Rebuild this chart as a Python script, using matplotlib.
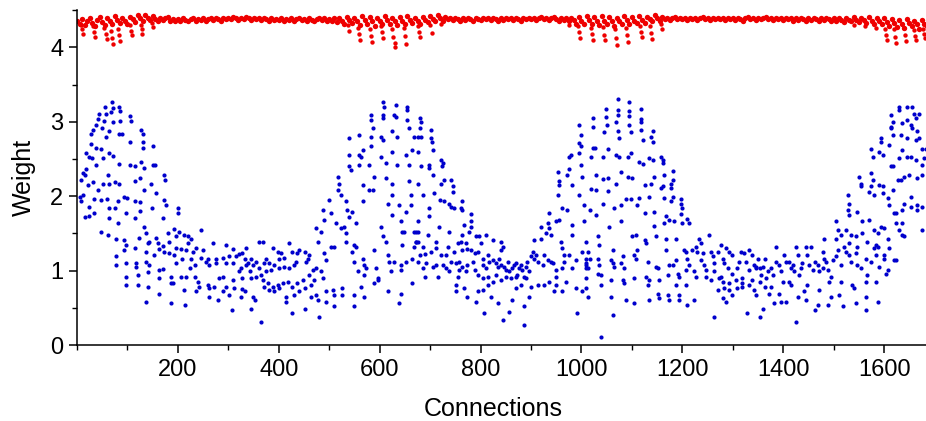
import numpy as np
import matplotlib.pyplot as plt
from matplotlib.ticker import MultipleLocator

plt.rcParams['font.family'] = ['Liberation Sans', 'DejaVu Sans']

# blue series, (connection, weight), split by x range
blue_seg1 = [
    (69, 3.26), (55, 3.20), (71, 3.18), (84, 3.20), (86, 3.14), (67, 3.13), (43, 3.11), (57, 3.11),
    (104, 3.08), (42, 3.04), (54, 3.01), (71, 3.00), (86, 3.01), (106, 3.01), (38, 2.96), (31, 2.89),
    (50, 2.91), (63, 2.87), (84, 2.83), (90, 2.83), (127, 2.89), (130, 2.84), (28, 2.83), (57, 2.80),
    (104, 2.73), (130, 2.73), (130, 2.65), (150, 2.67), (28, 2.70), (38, 2.65), (48, 2.63), (18, 2.58),
    (24, 2.53), (30, 2.51), (64, 2.58), (71, 2.54), (51, 2.51), (84, 2.43), (104, 2.42), (114, 2.40),
    (127, 2.46), (133, 2.38), (150, 2.42), (155, 2.42), (38, 2.42), (18, 2.37), (11, 2.31), (15, 2.28),
    (61, 2.28), (8, 2.22), (21, 2.15), (31, 2.19), (41, 2.08), (51, 2.17), (76, 2.19), (83, 2.16),
    (64, 2.16), (114, 2.20), (124, 2.24), (147, 2.16), (173, 2.29), (175, 2.22), (133, 2.08), (157, 2.04),
    (5, 1.99), (11, 2.02), (8, 1.94), (34, 1.96), (48, 1.95), (59, 1.96), (81, 1.93), (94, 1.99),
    (100, 1.97), (114, 1.94), (124, 1.92), (23, 1.86), (34, 1.78), (64, 1.84), (76, 1.84), (97, 1.77),
    (124, 1.80), (149, 1.84), (173, 1.95), (176, 1.88), (200, 1.84), (201, 1.77), (170, 1.70), (24, 1.74),
    (15, 1.72), (64, 1.70), (81, 1.64), (114, 1.70), (48, 1.52), (61, 1.48), (77, 1.42), (94, 1.41),
    (97, 1.34), (114, 1.30), (122, 1.44), (133, 1.59), (137, 1.51), (140, 1.37), (143, 1.39), (157, 1.44),
    (160, 1.37), (163, 1.29), (170, 1.33), (173, 1.25), (180, 1.51), (183, 1.39), (193, 1.56), (196, 1.46),
    (203, 1.52), (213, 1.48), (219, 1.46), (226, 1.43), (246, 1.55), (219, 1.37), (196, 1.30), (206, 1.29),
    (216, 1.28), (229, 1.25), (236, 1.30), (249, 1.28), (269, 1.37), (295, 1.34), (309, 1.29), (137, 1.25),
    (153, 1.21), (183, 1.23), (193, 1.21), (209, 1.16), (226, 1.16), (246, 1.17), (259, 1.16), (275, 1.16),
    (289, 1.17), (302, 1.19), (315, 1.19), (322, 1.22), (328, 1.23), (332, 1.16), (335, 1.08), (77, 1.19),
    (94, 1.27), (117, 1.10), (117, 1.05), (97, 1.10), (77, 1.07), (137, 1.12), (143, 1.08), (163, 1.01),
    (170, 1.02), (196, 1.10), (223, 1.03), (233, 1.08), (256, 1.12), (262, 1.08), (275, 1.10), (295, 1.10),
    (309, 1.10), (325, 1.03), (163, 0.90), (186, 0.92), (206, 0.92), (216, 0.91), (233, 0.92), (239, 0.85),
    (242, 0.78), (259, 0.81), (282, 0.90), (289, 0.92), (295, 0.78), (309, 0.87), (322, 0.99), (328, 0.90),
    (97, 0.92), (120, 0.94), (140, 0.98), (97, 0.81), (120, 0.81), (140, 0.78), (163, 0.68), (186, 0.83),
    (190, 0.83), (213, 0.74), (236, 0.72), (262, 0.76), (262, 0.65), (272, 0.78), (279, 0.60), (289, 0.72),
    (302, 0.67), (312, 0.76), (325, 0.65), (328, 0.75), (137, 0.58), (186, 0.57), (215, 0.54), (307, 0.47),
    (332, 0.72),
]

blue_seg2 = [
    (361, 1.38), (368, 1.38), (335, 1.30), (345, 1.16), (338, 1.10), (348, 1.08), (355, 1.12), (361, 1.03),
    (371, 1.10), (375, 1.16), (381, 1.10), (388, 1.30), (398, 1.25), (404, 1.23), (401, 1.16), (411, 1.17),
    (421, 1.37), (427, 1.25), (437, 1.23), (441, 1.28), (451, 1.25), (457, 1.16), (460, 1.21), (454, 1.12),
    (434, 1.12), (431, 1.08), (421, 1.03), (411, 1.05), (401, 1.03), (391, 1.08), (385, 1.01), (375, 0.99),
    (365, 0.94), (355, 0.92), (345, 0.90), (342, 0.99), (368, 0.87), (378, 0.83), (388, 0.78), (398, 0.81),
    (408, 0.83), (418, 0.85), (427, 0.78), (437, 0.83), (447, 0.87), (460, 0.94), (467, 1.01), (474, 1.03),
    (484, 0.99), (487, 0.90), (470, 0.87), (464, 0.81), (451, 0.76), (441, 0.72), (431, 0.67), (414, 0.65),
    (401, 0.76), (391, 0.72), (381, 0.74), (371, 0.78), (348, 0.65), (352, 0.60), (345, 0.49), (365, 0.31),
    (414, 0.58), (427, 0.43), (451, 0.49), (464, 0.65), (474, 0.67), (477, 0.60), (480, 0.38), (493, 0.72),
    (507, 0.74), (510, 0.67), (493, 0.58), (510, 0.52), (526, 0.76), (526, 0.67), (550, 0.67), (550, 0.52),
    (569, 0.65), (563, 0.78), (589, 0.83), (596, 0.87), (616, 0.72), (642, 0.68), (639, 0.56), (665, 0.83),
    (474, 1.57), (477, 1.39), (484, 1.52), (490, 1.23), (493, 1.14), (503, 1.32), (510, 1.32), (513, 1.64),
    (523, 1.57), (530, 1.59), (533, 1.50), (533, 1.39), (546, 1.25), (550, 1.34), (550, 1.12), (553, 1.32),
    (556, 0.99), (566, 1.16), (569, 1.08), (573, 1.03), (569, 0.94), (589, 1.28), (592, 1.03), (596, 0.90),
    (602, 1.59), (606, 1.46), (612, 1.39), (616, 1.21), (619, 1.12), (622, 0.99), (629, 1.12), (642, 1.08),
    (642, 1.01), (645, 1.34), (649, 1.52), (652, 1.12), (665, 1.16), (668, 1.32), (672, 1.39), (668, 1.52),
    (487, 1.81), (490, 1.68), (503, 1.77), (500, 1.95), (517, 2.26), (520, 2.17), (517, 2.08), (523, 2.02),
    (533, 1.93), (536, 1.81), (540, 1.72), (546, 1.79), (553, 1.64), (540, 2.40), (540, 2.55), (543, 2.35),
    (540, 2.78), (559, 2.55), (563, 2.53), (559, 2.82), (559, 2.42), (566, 2.62), (566, 2.15), (566, 1.93),
    (579, 2.42), (583, 2.67), (579, 2.08), (586, 2.08), (583, 2.80), (586, 2.91), (583, 3.09), (583, 3.02),
    (589, 2.26), (602, 2.53), (602, 2.80), (606, 2.76), (606, 3.09), (606, 3.05), (609, 3.20), (606, 3.27),
    (612, 2.24), (616, 1.90), (612, 2.44), (625, 2.17), (625, 2.02), (625, 1.75), (625, 2.87), (625, 2.60),
    (629, 3.09), (632, 3.07), (632, 3.23), (635, 2.80), (635, 2.42), (639, 1.88), (645, 1.52), (652, 2.55),
    (655, 3.20), (655, 3.16), (655, 3.02), (658, 2.91), (658, 2.42), (658, 2.20), (662, 2.02), (662, 1.88),
    (665, 2.62), (668, 2.80), (672, 1.52), (675, 1.66), (675, 1.39), (652, 1.79), (642, 1.66),
]

blue_seg3 = [
    (679, 3.05), (682, 3.00), (679, 2.91), (675, 2.80), (682, 2.79), (702, 2.89), (702, 2.78), (704, 2.73),
    (675, 2.60), (705, 2.62), (682, 2.40), (698, 2.42), (698, 2.38), (722, 2.49), (725, 2.44), (723, 2.40),
    (705, 2.28), (675, 2.16), (685, 2.02), (722, 2.16), (728, 2.22), (741, 2.22), (745, 2.13), (745, 2.06),
    (708, 2.04), (698, 1.84), (698, 1.74), (720, 1.95), (728, 1.93), (738, 1.90), (741, 1.86), (748, 1.84),
    (761, 1.84), (764, 1.81), (764, 1.93), (781, 1.76), (781, 1.66), (781, 1.59), (778, 1.52), (764, 1.48),
    (761, 1.39), (771, 1.37), (755, 1.37), (768, 1.61), (738, 1.52), (718, 1.59), (695, 1.48), (675, 1.52),
    (672, 1.39), (685, 1.32), (679, 1.21), (689, 1.22), (702, 1.25), (712, 1.30), (712, 1.39), (722, 1.21),
    (731, 1.21), (735, 1.32), (741, 1.12), (751, 1.10), (758, 1.12), (748, 1.25), (764, 1.28), (774, 1.29),
    (781, 1.28), (791, 1.47), (797, 1.47), (801, 1.37), (811, 1.48), (824, 1.41), (840, 1.39), (844, 1.32),
    (840, 1.28), (814, 1.21), (804, 1.16), (788, 1.23), (794, 1.25), (784, 1.12), (774, 1.08), (771, 0.99),
    (764, 1.05), (758, 1.01), (755, 0.92), (738, 0.99), (731, 1.03), (725, 1.08), (712, 1.08), (705, 1.05),
    (692, 1.10), (685, 1.03), (689, 0.92), (715, 0.92), (675, 1.12),
    (751, 0.81), (751, 0.72), (768, 0.76), (774, 0.65), (791, 0.58), (794, 0.72), (804, 0.74), (814, 0.81),
    (821, 0.65), (807, 0.43), (834, 0.56), (844, 0.34), (857, 0.44), (863, 0.60), (870, 0.76), (880, 0.81),
    (890, 0.90), (900, 0.78), (896, 0.65), (886, 0.27), (886, 0.52), (913, 0.81), (926, 0.81), (936, 0.85),
    (949, 0.92), (949, 0.81), (946, 0.72), (962, 0.72), (969, 0.85), (989, 0.76), (1002, 0.72), (992, 0.43),
    (804, 1.08), (811, 1.03), (817, 1.12), (824, 1.14), (830, 1.10), (834, 1.05), (837, 1.16), (840, 1.08),
    (847, 1.05), (850, 1.01), (854, 1.12), (857, 0.99), (863, 1.03), (867, 1.08), (870, 1.10), (877, 1.03),
    (873, 0.94), (880, 1.08), (883, 1.01), (890, 1.05), (893, 1.12), (900, 1.19), (903, 1.25), (906, 1.16),
    (910, 1.21), (896, 0.99), (886, 0.92), (870, 0.92), (860, 0.90), (850, 0.92), (840, 0.87), (830, 0.94),
    (824, 0.85), (814, 0.92), (804, 0.90), (794, 0.94), (788, 1.01), (913, 1.12), (923, 1.08), (933, 1.14),
    (943, 1.10), (949, 1.01), (962, 1.03), (966, 1.12), (976, 1.21), (982, 1.03), (989, 1.14), (1002, 1.25),
    (1009, 1.10), (1009, 1.03), (926, 1.21), (939, 1.12), (966, 1.21),
    (906, 1.41), (920, 1.43), (920, 1.59), (929, 1.50), (933, 1.64), (936, 1.57), (939, 1.48), (936, 1.77),
    (949, 1.66), (956, 1.68), (959, 1.39), (962, 1.30), (953, 2.02), (956, 2.20), (956, 2.15), (953, 2.33),
    (972, 2.28), (976, 2.37), (976, 2.53), (979, 2.55), (982, 2.15), (982, 1.61), (982, 1.48), (972, 1.81),
    (962, 1.84), (995, 2.96), (999, 2.82), (995, 2.71), (999, 2.67), (995, 2.58), (999, 2.42), (1002, 2.26),
    (995, 2.02), (1005, 1.88), (1005, 1.66), (1009, 1.39), (1012, 1.25),
]

blue_seg4 = [
    (1072, 3.31), (1095, 3.26), (1049, 3.17), (1072, 3.16), (1095, 3.14), (1118, 3.17), (1022, 3.05), (1049, 3.07),
    (1072, 3.09), (1095, 3.08), (1118, 3.04), (1118, 3.00), (1022, 2.93), (1050, 2.95), (1068, 3.00), (1095, 2.96),
    (1118, 2.89), (1141, 2.88), (1045, 2.86), (1072, 2.87), (1098, 2.86), (1138, 2.80), (1141, 2.73), (1075, 2.78),
    (1121, 2.76), (1022, 2.65), (1026, 2.65), (1052, 2.63), (1019, 2.53), (1042, 2.53), (1068, 2.55), (1075, 2.53),
    (1092, 2.53), (1098, 2.58), (1115, 2.46), (1121, 2.43), (1134, 2.51), (1141, 2.49), (1158, 2.53), (1161, 2.49),
    (1161, 2.44), (1078, 2.32), (1029, 2.29), (1042, 2.23), (1052, 2.25), (1092, 2.26), (1101, 2.25), (1144, 2.26),
    (1164, 2.28), (1181, 2.34), (1181, 2.22), (1177, 2.17), (1068, 2.16), (1125, 2.15), (1138, 2.16), (1158, 2.11),
    (1161, 2.14), (1177, 2.11), (1019, 2.10), (1029, 2.08), (1052, 2.07), (1042, 1.90), (1088, 1.96), (1098, 1.96),
    (1115, 1.97), (1134, 1.99), (1164, 1.97), (1181, 1.99), (1177, 1.94), (1197, 1.96), (1197, 1.90), (1200, 1.84),
    (1016, 1.81), (1029, 1.75), (1065, 1.84), (1078, 1.88), (1111, 1.88), (1125, 1.78), (1144, 1.79), (1167, 1.74),
    (1164, 1.64), (1174, 1.68), (1184, 1.66), (1197, 1.76), (1200, 1.64), (1210, 1.69), (1214, 1.64), (1078, 1.66),
    (1055, 1.58), (1144, 1.60), (1032, 1.46), (1035, 1.34), (1101, 1.46), (1108, 1.48), (1125, 1.41), (1128, 1.37),
    (1148, 1.46), (1167, 1.42), (1187, 1.43), (1167, 1.28), (1111, 1.28), (1062, 1.28),
    (1009, 1.16), (1016, 1.16), (1009, 1.08), (1012, 1.03), (1032, 1.16), (1035, 1.08), (1032, 0.96), (1039, 0.94),
    (1059, 1.14), (1062, 1.10), (1065, 1.05), (1059, 0.87), (1039, 0.81), (1009, 0.90), (1082, 1.19), (1078, 1.10),
    (1085, 1.03), (1082, 0.87), (1085, 0.83), (1105, 1.21), (1108, 1.16), (1105, 0.90), (1128, 0.92), (1131, 0.81),
    (1134, 0.87), (1131, 1.12), (1148, 1.05), (1151, 1.03), (1154, 0.87), (1151, 0.69), (1154, 0.63), (1171, 0.94),
    (1174, 1.08), (1187, 1.14), (1191, 0.96), (1187, 0.81), (1171, 0.67), (1194, 0.67), (1207, 0.81), (1204, 1.28),
    (1207, 1.25), (1220, 1.28), (1210, 1.16), (1214, 1.08), (1224, 0.99), (1227, 1.32), (1233, 1.43), (1237, 1.37),
    (1230, 1.25), (1240, 1.23), (1237, 1.14), (1243, 1.08), (1247, 1.01), (1253, 1.48), (1257, 1.25), (1260, 1.19),
    (1263, 1.10), (1263, 0.99), (1270, 1.25), (1276, 1.34), (1280, 1.16), (1283, 1.10), (1276, 0.92), (1286, 1.30),
    (1293, 1.25), (1299, 1.21), (1290, 1.03), (1299, 0.96), (1309, 1.03), (1313, 1.12), (1316, 1.25), (1323, 1.23),
    (1326, 1.12), (1332, 1.28), (1339, 1.21), (1342, 1.08), (1346, 1.03), (1332, 1.01), (1319, 0.90), (1306, 0.87),
    (1293, 0.83), (1280, 0.85), (1273, 0.90), (1283, 0.76), (1293, 0.74), (1309, 0.76), (1319, 0.78), (1332, 0.81),
    (1342, 0.74), (1339, 0.87), (1263, 0.38), (1224, 0.60), (1210, 0.54), (1194, 0.92), (1009, 0.76), (1012, 0.65),
    (1059, 0.65), (1062, 0.40), (1088, 0.60), (1105, 0.56), (1134, 0.60), (1174, 0.60), (1194, 0.60), (1286, 0.58),
    (1329, 0.43), (1039, 0.11), (1181, 1.08), (1207, 1.01), (1227, 0.92), (1247, 0.92), (1257, 0.87), (1270, 0.74),
    (1280, 0.63), (1299, 0.67), (1319, 0.83),
]

blue_seg5 = [
    (1346, 1.05), (1353, 1.03), (1359, 1.05), (1363, 1.16), (1349, 1.16), (1356, 0.94), (1369, 0.99), (1366, 0.90),
    (1376, 1.03), (1379, 0.94), (1386, 1.32), (1386, 1.12), (1392, 1.08), (1396, 0.99), (1399, 0.85), (1405, 1.12),
    (1402, 1.21), (1412, 1.12), (1415, 1.03), (1419, 1.08), (1422, 0.99), (1425, 1.32), (1429, 1.21), (1432, 0.94),
    (1435, 1.03), (1438, 1.10), (1445, 1.32), (1448, 1.21), (1455, 1.32), (1452, 1.08), (1458, 1.01), (1462, 1.12),
    (1468, 1.08), (1471, 0.99), (1478, 1.03), (1481, 1.16), (1485, 1.12), (1478, 1.25), (1488, 1.01), (1494, 0.92),
    (1498, 1.14), (1504, 1.19), (1508, 1.28), (1514, 1.08), (1521, 1.32), (1524, 1.25), (1531, 1.21), (1534, 1.12),
    (1544, 1.23), (1547, 1.08), (1554, 1.03), (1564, 1.16), (1567, 0.94), (1574, 1.12), (1580, 1.30), (1584, 1.21),
    (1587, 1.32), (1590, 1.05), (1600, 1.16), (1607, 1.01), (1603, 0.96), (1620, 1.14),
    (1353, 0.85), (1363, 0.78), (1376, 0.78), (1372, 0.69), (1346, 0.67), (1359, 0.49), (1353, 0.38), (1382, 0.56),
    (1396, 0.58), (1405, 0.58), (1392, 0.69), (1412, 0.85), (1415, 0.81), (1429, 0.65), (1442, 0.72), (1445, 0.60),
    (1448, 0.81), (1462, 0.47), (1468, 0.54), (1471, 0.74), (1488, 0.54), (1494, 0.65), (1491, 0.85), (1511, 0.67),
    (1518, 0.52), (1514, 0.85), (1537, 0.81), (1541, 0.76), (1544, 0.56), (1564, 0.85), (1564, 0.65), (1564, 0.47),
    (1587, 0.58), (1584, 0.85), (1425, 0.31),
    (1481, 1.43), (1504, 1.43), (1504, 1.66), (1508, 1.55), (1514, 1.48), (1524, 1.55), (1534, 1.48), (1531, 1.37),
    (1544, 1.46), (1547, 1.32), (1557, 1.66), (1557, 1.50), (1567, 1.39), (1570, 1.68), (1580, 1.55), (1584, 1.34),
    (1587, 1.50), (1594, 1.59), (1600, 1.57), (1600, 1.21), (1607, 1.43), (1610, 1.30), (1623, 1.64), (1623, 1.14),
    (1636, 1.64), (1636, 1.48),
    (1528, 2.02), (1531, 1.90), (1528, 1.81), (1531, 1.75), (1547, 1.79), (1551, 2.26), (1554, 2.17), (1554, 2.13),
    (1574, 2.31), (1577, 2.22), (1574, 2.13), (1570, 2.06), (1580, 2.02), (1590, 2.15), (1597, 2.13), (1597, 2.04),
    (1607, 1.97), (1610, 1.88), (1613, 2.40), (1617, 2.40), (1574, 2.64), (1577, 2.53), (1590, 2.60), (1597, 2.55),
    (1594, 2.78), (1594, 2.73), (1610, 2.69), (1613, 2.93), (1613, 2.91), (1617, 2.82), (1613, 3.09), (1617, 3.00),
    (1630, 3.20), (1630, 3.16), (1646, 3.20), (1656, 3.20), (1660, 3.11), (1646, 3.02), (1636, 2.98), (1663, 3.05),
    (1669, 3.11), (1656, 2.91), (1653, 2.96), (1666, 2.87), (1669, 2.78), (1633, 2.82), (1646, 2.78), (1663, 2.76),
    (1676, 2.64), (1636, 2.62), (1630, 2.51), (1646, 2.53), (1653, 2.53), (1663, 2.49), (1676, 2.42), (1627, 2.22),
    (1633, 2.22), (1640, 2.26), (1650, 2.28), (1666, 2.24), (1676, 2.28), (1617, 2.08), (1640, 1.90), (1653, 1.99),
    (1653, 1.86), (1666, 1.88), (1666, 1.81), (1676, 1.86), (1620, 1.77), (1623, 1.77), (1676, 1.55), (1636, 1.81),
    (1630, 1.55), (1640, 1.46), (1679, 2.51), (1683, 2.64),
]

# red series: the upper band, one value every 5 connections from 0 to 1685
red_step = 5
red_band = [
    4.36, 4.32, 4.38, 4.30, 4.35, 4.40, 4.33, 4.28, 4.37, 4.41, 4.34, 4.30, 4.39, 4.35, 4.31, 4.42, 4.37, 4.33, 4.40, 4.36,
    4.32, 4.41, 4.38, 4.34, 4.43, 4.39, 4.36, 4.44, 4.40, 4.37, 4.42, 4.38, 4.35, 4.40, 4.37, 4.39, 4.41, 4.36, 4.38, 4.35,
    4.38, 4.36, 4.39, 4.37, 4.35, 4.38, 4.40, 4.36, 4.38, 4.37, 4.39, 4.36, 4.38, 4.40, 4.37, 4.39, 4.38, 4.36, 4.40, 4.38,
    4.40, 4.38, 4.41, 4.39, 4.37, 4.40, 4.38, 4.41, 4.39, 4.37, 4.39, 4.38, 4.40, 4.37, 4.39, 4.38, 4.36, 4.39, 4.37, 4.38,
    4.37, 4.39, 4.36, 4.38, 4.37, 4.39, 4.36, 4.38, 4.40, 4.37, 4.38, 4.36, 4.39, 4.37, 4.35, 4.38, 4.40, 4.37, 4.39, 4.36,
    4.38, 4.36, 4.39, 4.34, 4.40, 4.36, 4.31, 4.41, 4.37, 4.33, 4.40, 4.36, 4.30, 4.42, 4.37, 4.32, 4.41, 4.35, 4.29, 4.40,
    4.36, 4.31, 4.42, 4.37, 4.32, 4.40, 4.35, 4.30, 4.41, 4.36, 4.32, 4.42, 4.37, 4.33, 4.40, 4.36, 4.31, 4.41, 4.37, 4.34,
    4.42, 4.38, 4.35, 4.43, 4.39, 4.36, 4.41, 4.38, 4.40, 4.37, 4.39, 4.38, 4.36, 4.39, 4.37, 4.40, 4.38, 4.36, 4.39, 4.38,
    4.37, 4.39, 4.38, 4.40, 4.37, 4.39, 4.38, 4.36, 4.39, 4.37, 4.40, 4.38, 4.39, 4.37, 4.40, 4.38, 4.36, 4.39, 4.38, 4.40,
    4.38, 4.40, 4.37, 4.39, 4.41, 4.38, 4.40, 4.37, 4.39, 4.41, 4.38, 4.36, 4.40, 4.37, 4.39, 4.35, 4.40, 4.37, 4.32, 4.41,
    4.36, 4.31, 4.42, 4.37, 4.32, 4.41, 4.36, 4.30, 4.42, 4.36, 4.31, 4.41, 4.35, 4.29, 4.40, 4.36, 4.31, 4.42, 4.37, 4.32,
    4.41, 4.36, 4.33, 4.42, 4.37, 4.33, 4.41, 4.38, 4.35, 4.43, 4.39, 4.36, 4.41, 4.38, 4.40, 4.37, 4.39, 4.41, 4.38, 4.40,
    4.38, 4.40, 4.37, 4.39, 4.38, 4.40, 4.37, 4.39, 4.41, 4.38, 4.40, 4.37, 4.39, 4.38, 4.40, 4.38, 4.39, 4.37, 4.40, 4.38,
    4.39, 4.37, 4.40, 4.38, 4.36, 4.39, 4.41, 4.38, 4.40, 4.37, 4.39, 4.38, 4.40, 4.41, 4.38, 4.39, 4.37, 4.40, 4.38, 4.39,
    4.37, 4.40, 4.38, 4.39, 4.36, 4.39, 4.37, 4.40, 4.38, 4.36, 4.39, 4.37, 4.40, 4.38, 4.36, 4.39, 4.37, 4.40, 4.38, 4.36,
    4.39, 4.36, 4.40, 4.37, 4.34, 4.40, 4.37, 4.35, 4.41, 4.37, 4.34, 4.40, 4.37, 4.33, 4.41, 4.36, 4.32, 4.40, 4.35, 4.31,
    4.39, 4.34, 4.29, 4.38, 4.33, 4.27, 4.37, 4.32, 4.26, 4.38, 4.33, 4.28, 4.36, 4.31, 4.25, 4.37, 4.32, 4.28,
]

# red series: the downward spikes below the band
red_dips = [
    (8, 4.30), (10, 4.24), (12, 4.18), (32, 4.28), (34, 4.20), (36, 4.14), (54, 4.26), (57, 4.18), (59, 4.11),
    (68, 4.22), (70, 4.12), (71, 4.05), (82, 4.25), (84, 4.16), (86, 4.08), (104, 4.30), (106, 4.22), (108, 4.16),
    (126, 4.30), (128, 4.24), (129, 4.18), (148, 4.33), (151, 4.27),
    (537, 4.30), (540, 4.22), (557, 4.26), (559, 4.18), (561, 4.10), (580, 4.25), (582, 4.15), (584, 4.07),
    (603, 4.28), (605, 4.20), (607, 4.12), (625, 4.24), (627, 4.14), (630, 4.06), (631, 4.01), (649, 4.26),
    (651, 4.15), (653, 4.05), (676, 4.28), (678, 4.20), (680, 4.14), (700, 4.30), (703, 4.19), (722, 4.31),
    (975, 4.30), (993, 4.28), (995, 4.20), (997, 4.12), (1019, 4.26), (1021, 4.18), (1023, 4.10), (1042, 4.27),
    (1044, 4.17), (1046, 4.10), (1066, 4.24), (1068, 4.13), (1070, 4.03), (1088, 4.26), (1090, 4.16), (1092, 4.07),
    (1116, 4.29), (1118, 4.21), (1120, 4.14), (1136, 4.28), (1138, 4.19), (1140, 4.11), (1158, 4.31), (1160, 4.25),
    (1540, 4.30), (1562, 4.28), (1583, 4.26), (1601, 4.25), (1603, 4.16), (1605, 4.10), (1620, 4.24), (1622, 4.14),
    (1624, 4.06), (1640, 4.26), (1642, 4.16), (1644, 4.08), (1660, 4.23), (1662, 4.15), (1664, 4.10), (1678, 4.25),
    (1680, 4.18), (1682, 4.12),
]

x_ticks = [200, 400, 600, 800, 1000, 1200, 1400, 1600]
y_ticks = [0, 1, 2, 3, 4]


def main():
    blue = np.array(blue_seg1 + blue_seg2 + blue_seg3 + blue_seg4 + blue_seg5)
    dips = np.array(red_dips)
    band_x = np.arange(len(red_band)) * red_step

    fig = plt.figure(figsize=(9.26, 4.21), dpi=100)
    ax = fig.add_axes([0.0832, 0.1805, 0.9168, 0.7955])

    ax.scatter(blue[:, 0], blue[:, 1], s=9, c='#0000cc', linewidths=0)
    ax.scatter(band_x, red_band, s=15, c='#ee0000', linewidths=0)
    ax.scatter(dips[:, 0], dips[:, 1], s=10, c='#ee0000', linewidths=0)

    ax.set_xlim(0, 1683)
    ax.set_ylim(0, 4.5)
    ax.set_xticks(x_ticks)
    ax.set_yticks(y_ticks)
    ax.xaxis.set_minor_locator(MultipleLocator(100))
    ax.yaxis.set_minor_locator(MultipleLocator(0.5))
    for side in ['top', 'right']:
        ax.spines[side].set_visible(False)
    for side in ['left', 'bottom']:
        ax.spines[side].set_linewidth(1.1)
    ax.tick_params(which='major', direction='out', length=6, width=1.1, labelsize=17, pad=4)
    ax.tick_params(which='minor', direction='out', length=3.5, width=1.0)

    ax.set_xlabel('Connections', fontsize=18)
    ax.xaxis.set_label_coords(0.49, -0.155)
    ax.set_ylabel('Weight', fontsize=18, labelpad=10)

    fig.savefig('out.png', dpi=100)


if __name__ == '__main__':
    main()
